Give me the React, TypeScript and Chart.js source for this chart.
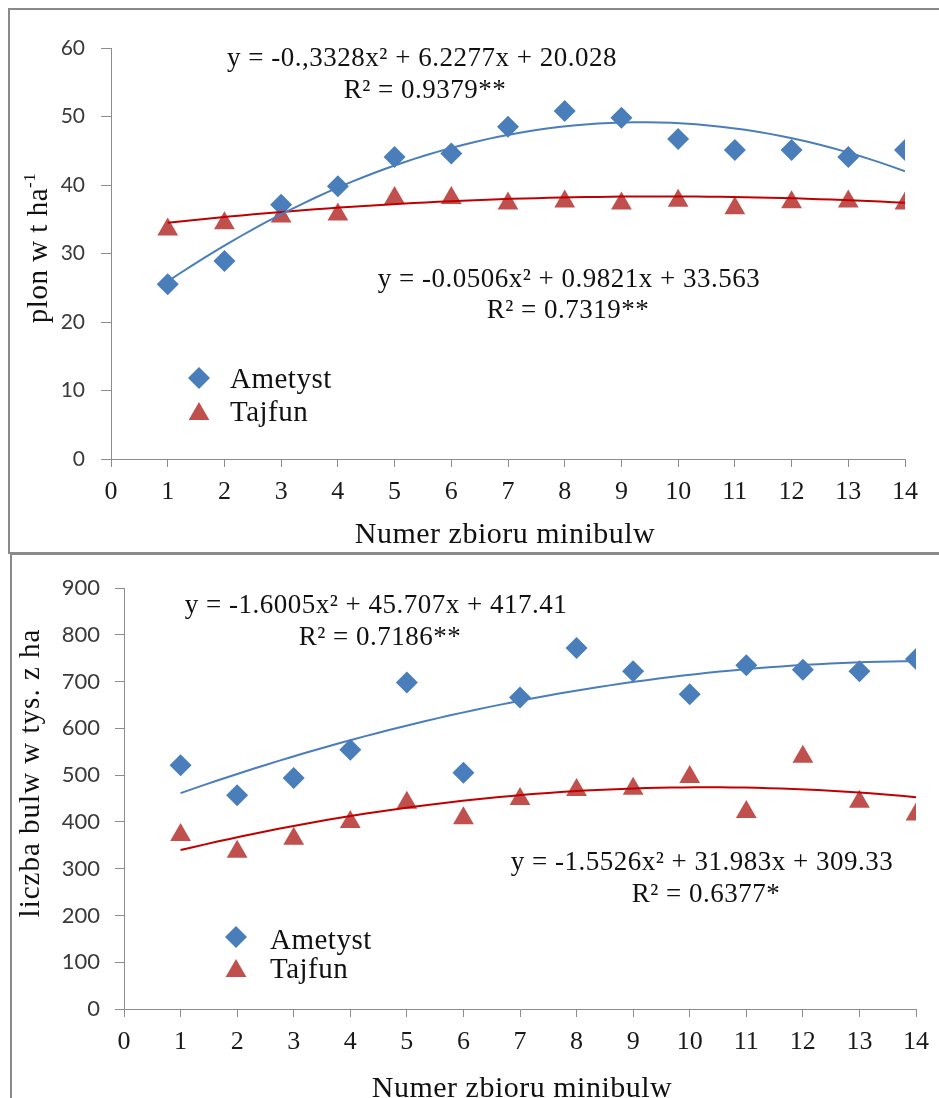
import React, { useEffect, useRef } from 'react';
import { Chart, registerables } from 'chart.js';
import { drawPoint } from 'chart.js/helpers';

Chart.register(...registerables);

// ---------- data ----------
const harvestNumbers = [1, 2, 3, 4, 5, 6, 7, 8, 9, 10, 11, 12, 13, 14];
const xTickValues = [0, 1, 2, 3, 4, 5, 6, 7, 8, 9, 10, 11, 12, 13, 14];
const seriesNames = ['Ametyst', 'Tajfun'];

const yieldAmetyst = [25.5, 28.9, 37.1, 39.8, 44.1, 44.6, 48.5, 50.8, 49.8, 46.7, 45.1, 45.1, 44.1, 45.1];
const yieldTajfun = [33.5, 34.4, 35.4, 35.7, 38.1, 38.1, 37.3, 37.6, 37.3, 37.7, 36.6, 37.5, 37.6, 37.3];
const yieldTicks = [0, 10, 20, 30, 40, 50, 60];
const yieldFitAmetyst = [-0.3328, 6.2277, 20.028];
const yieldFitTajfun = [-0.0506, 0.9821, 33.563];

const tuberAmetyst = [521, 457, 494, 554, 698, 505, 666, 772, 722, 673, 735, 725, 722, 748];
const tuberTajfun = [372, 336, 364, 400, 441, 408, 449, 468, 471, 496, 421, 539, 443, 416];
const tuberTicks = [0, 100, 200, 300, 400, 500, 600, 700, 800, 900];
const tuberFitAmetyst = [-1.6005, 45.707, 417.41];
const tuberFitTajfun = [-1.5526, 31.983, 309.33];

// ---------- styles ----------
const BLUE = '#4a7ebb';
const RED = '#c0504d';
const RED_LINE = '#c00000';
const AXIS = '#8c8c8c';
const SERIF = '"Liberation Serif", "Times New Roman", serif';

function fitCurve(coef: number[], xs: number[]) {
  const pts: { x: number; y: number }[] = [];
  const x0 = xs[0];
  const x1 = xs[xs.length - 1];
  const n = 60;
  for (let i = 0; i <= n; i++) {
    const x = x0 + ((x1 - x0) * i) / n;
    pts.push({ x, y: coef[0] * x * x + coef[1] * x + coef[2] });
  }
  return pts;
}

type Label = {
  text: string;
  sup?: string;
  x: number;
  y: number;
  size: number;
  spacing: number;
  align: 'center' | 'left';
  rotate?: boolean;
};

type LegendPos = { x: number; y: number; tx: number; ty: number };

function drawLabel(ctx: CanvasRenderingContext2D, l: Label) {
  ctx.save();
  ctx.fillStyle = '#111';
  ctx.textBaseline = 'alphabetic';
  ctx.textAlign = 'left';
  (ctx as any).letterSpacing = l.spacing + 'px';
  ctx.font = `${l.size}px ${SERIF}`;
  const w = ctx.measureText(l.text).width;
  const supSize = Math.round(l.size * 0.6);
  let ws = 0;
  if (l.sup) {
    ctx.font = `${supSize}px ${SERIF}`;
    ws = ctx.measureText(l.sup).width;
  }
  const total = w + ws;
  let x = l.x;
  let y = l.y;
  if (l.rotate) {
    ctx.translate(l.x, l.y);
    ctx.rotate(-Math.PI / 2);
    x = 0;
    y = 0;
  }
  const start = l.align === 'center' ? x - total / 2 : x;
  ctx.font = `${l.size}px ${SERIF}`;
  ctx.fillText(l.text, start, y);
  if (l.sup) {
    ctx.font = `${supSize}px ${SERIF}`;
    ctx.fillText(l.sup, start + w, y - l.size * 0.4);
  }
  ctx.restore();
}

function makeTextPlugin(labels: Label[], legend: LegendPos[], legendSize: number) {
  return {
    id: 'textPlugin',
    afterDraw(chart: any) {
      const ctx: CanvasRenderingContext2D = chart.ctx;
      labels.forEach((l) => drawLabel(ctx, l));
      legend.forEach((pos, i) => {
        const ds = chart.data.datasets[i + 2];
        ctx.save();
        ctx.fillStyle = ds.backgroundColor;
        ctx.strokeStyle = ds.backgroundColor;
        drawPoint(ctx, { pointStyle: ds.pointStyle, radius: ds.pointRadius, borderWidth: 0, rotation: 0 } as any, pos.x, pos.y);
        ctx.restore();
        drawLabel(ctx, { text: ds.label, x: pos.tx, y: pos.ty, size: legendSize, spacing: 0.5, align: 'left' });
      });
    },
  };
}

type PanelCfg = {
  top: number;
  width: number;
  height: number;
  ametyst: number[];
  tajfun: number[];
  fitA: number[];
  fitT: number[];
  yTicks: number[];
  pad: { top: number; right: number };
  yWidth: number;
  xHeight: number;
  yTickSize: number;
  yTickPad: number;
  yTickLen: number;
  labels: Label[];
  legend: LegendPos[];
};

function ScatterPanel({ cfg }: { cfg: PanelCfg }) {
  const ref = useRef<HTMLCanvasElement>(null);
  useEffect(() => {
    const chart = new Chart(ref.current as HTMLCanvasElement, {
      type: 'scatter',
      data: {
        datasets: [
          {
            label: seriesNames[0] + ' trend',
            data: fitCurve(cfg.fitA, harvestNumbers),
            showLine: true,
            borderColor: BLUE,
            borderWidth: 2,
            pointRadius: 0,
            fill: false,
          },
          {
            label: seriesNames[1] + ' trend',
            data: fitCurve(cfg.fitT, harvestNumbers),
            showLine: true,
            borderColor: RED_LINE,
            borderWidth: 2,
            pointRadius: 0,
            fill: false,
          },
          {
            label: seriesNames[0],
            data: harvestNumbers.map((x, i) => ({ x, y: cfg.ametyst[i] })),
            pointStyle: 'rectRot',
            pointRadius: 11,
            backgroundColor: BLUE,
            borderColor: BLUE,
            borderWidth: 0,
          },
          {
            label: seriesNames[1],
            data: harvestNumbers.map((x, i) => ({ x, y: cfg.tajfun[i] })),
            pointStyle: 'triangle',
            pointRadius: 12,
            backgroundColor: RED,
            borderColor: RED,
            borderWidth: 0,
          },
        ],
      } as any,
      options: {
        animation: false,
        responsive: false,
        layout: { padding: { left: 0, top: cfg.pad.top, right: cfg.pad.right, bottom: 0 } },
        plugins: { legend: { display: false }, tooltip: { enabled: false } },
        scales: {
          x: {
            type: 'linear',
            min: xTickValues[0],
            max: xTickValues[xTickValues.length - 1],
            afterBuildTicks: (s: any) => {
              s.ticks = xTickValues.map((v) => ({ value: v }));
            },
            afterFit: (s: any) => {
              s.height = cfg.xHeight;
            },
            grid: { drawOnChartArea: false, tickLength: 8, color: AXIS },
            border: { color: AXIS, width: 1 },
            ticks: {
              font: { family: SERIF, size: 26 },
              color: '#1a1a1a',
              padding: 10,
              autoSkip: false,
              maxRotation: 0,
            },
          },
          y: {
            type: 'linear',
            min: cfg.yTicks[0],
            max: cfg.yTicks[cfg.yTicks.length - 1],
            afterBuildTicks: (s: any) => {
              s.ticks = cfg.yTicks.map((v) => ({ value: v }));
            },
            afterFit: (s: any) => {
              s.width = cfg.yWidth;
            },
            grid: { drawOnChartArea: false, tickLength: cfg.yTickLen, color: AXIS },
            border: { color: AXIS, width: 1 },
            ticks: {
              font: { family: 'Lato', size: cfg.yTickSize },
              color: '#3a3a3a',
              padding: cfg.yTickPad,
            },
          },
        },
      } as any,
      plugins: [makeTextPlugin(cfg.labels, cfg.legend, 29)],
    });
    return () => chart.destroy();
  }, [cfg]);
  return (
    <canvas
      ref={ref}
      width={cfg.width}
      height={cfg.height}
      style={{ position: 'absolute', left: 0, top: cfg.top, width: cfg.width, height: cfg.height }}
    />
  );
}

const EQ = 27;
const SP = 0.5;
const topCfg: PanelCfg = {
  top: 0,
  width: 939,
  height: 552,
  ametyst: yieldAmetyst,
  tajfun: yieldTajfun,
  fitA: yieldFitAmetyst,
  fitT: yieldFitTajfun,
  yTicks: yieldTicks,
  pad: { top: 48, right: 34 },
  yWidth: 111,
  xHeight: 93,
  yTickSize: 21,
  yTickPad: 16,
  yTickLen: 10,
  labels: [
    { text: 'y = -0.,3328x² + 6.2277x + 20.028', x: 422, y: 66, size: EQ, spacing: SP, align: 'center' },
    { text: 'R² = 0.9379**', x: 425, y: 98, size: EQ, spacing: SP, align: 'center' },
    { text: 'y = -0.0506x² + 0.9821x + 33.563', x: 569, y: 287, size: EQ, spacing: SP, align: 'center' },
    { text: 'R² = 0.7319**', x: 568, y: 318, size: EQ, spacing: SP, align: 'center' },
    { text: 'Numer zbioru minibulw', x: 505, y: 543, size: 30, spacing: 0.5, align: 'center' },
    { text: 'plon w t ha', sup: '-1', x: 47, y: 248, size: 29, spacing: 0.5, align: 'center', rotate: true },
  ],
  legend: [
    { x: 199, y: 378, tx: 230, ty: 388 },
    { x: 199, y: 414, tx: 230, ty: 421 },
  ],
};

const bottomCfg: PanelCfg = {
  top: 552,
  width: 939,
  height: 546,
  ametyst: tuberAmetyst,
  tajfun: tuberTajfun,
  fitA: tuberFitAmetyst,
  fitT: tuberFitTajfun,
  yTicks: tuberTicks,
  pad: { top: 36, right: 19 },
  yWidth: 124,
  xHeight: 89,
  yTickSize: 22,
  yTickPad: 15,
  yTickLen: 9,
  labels: [
    { text: 'y = -1.6005x² + 45.707x + 417.41', x: 376, y: 61, size: EQ, spacing: SP, align: 'center' },
    { text: 'R² = 0.7186**', x: 380, y: 93, size: EQ, spacing: SP, align: 'center' },
    { text: 'y = -1.5526x² + 31.983x + 309.33', x: 702, y: 318, size: EQ, spacing: SP, align: 'center' },
    { text: 'R² = 0.6377*', x: 706, y: 350, size: EQ, spacing: SP, align: 'center' },
    { text: 'Numer zbioru minibulw', x: 522, y: 545, size: 30, spacing: 0.5, align: 'center' },
    { text: 'liczba bulw w tys. z ha', x: 39, y: 221, size: 29, spacing: 1, align: 'center', rotate: true },
  ],
  legend: [
    { x: 236, y: 385, tx: 270, ty: 397 },
    { x: 236, y: 419, tx: 270, ty: 426 },
  ],
};

export default function App() {
  return (
    <div
      style={{
        position: 'fixed',
        left: 0,
        top: 0,
        width: 939,
        height: 1098,
        overflow: 'hidden',
        background: '#fff',
      }}
    >
      <ScatterPanel cfg={topCfg} />
      <ScatterPanel cfg={bottomCfg} />
      <div
        style={{
          position: 'absolute',
          left: 8,
          top: 8,
          width: 960,
          height: 542,
          border: '2px solid #8a8a8a',
          pointerEvents: 'none',
        }}
      />
      <div
        style={{
          position: 'absolute',
          left: 10,
          top: 553,
          width: 960,
          height: 600,
          border: '2px solid #8a8a8a',
          pointerEvents: 'none',
        }}
      />
    </div>
  );
}
